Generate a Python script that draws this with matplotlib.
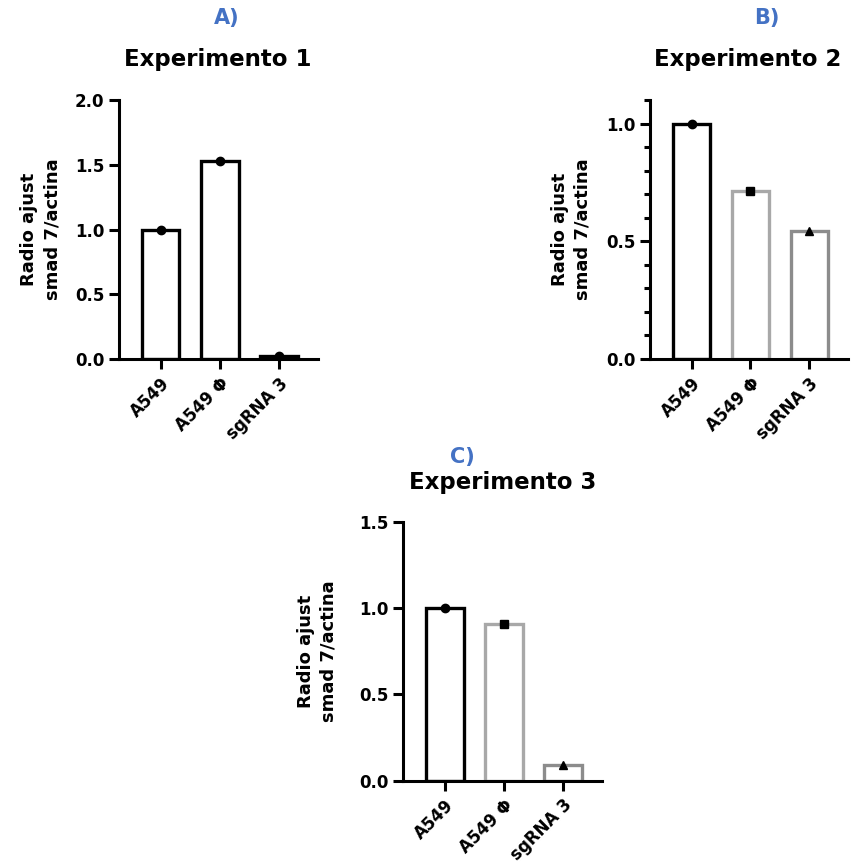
import matplotlib
matplotlib.use("Agg")
import matplotlib.pyplot as plt
from matplotlib.ticker import MultipleLocator

categories = ["A549", "A549 Φ", "sgRNA 3"]

exp1_values = [1.0, 1.53, 0.025]
exp2_values = [1.0, 0.715, 0.545]
exp3_values = [1.0, 0.91, 0.09]

panel_letters = ["A)", "B)", "C)"]
panel_titles = ["Experimento 1", "Experimento 2", "Experimento 3"]
ylabel_text = "Radio ajust\nsmad 7/actina"

plt.rcParams['font.family'] = ['DejaVu Sans']
plt.rcParams['font.weight'] = 'bold'

blue = '#4472C4'
lw = 2.2

fig = plt.figure(figsize=(8.54, 8.67), dpi=100)


def draw_panel(rect, values, edgecolors, markers, ylim, major, minor, ylabel_x):
    ax = fig.add_axes(rect)
    x = list(range(len(values)))
    ax.bar(x, values, width=0.63, color='white', edgecolor=edgecolors,
           linewidth=2.4, zorder=2)
    for xi, v, m in zip(x, values, markers):
        ax.plot(xi, v, marker=m, color='black', markersize=6,
                linestyle='none', zorder=3, clip_on=False)
    ax.set_xlim(-0.71, 2.66)
    ax.set_ylim(*ylim)
    ax.yaxis.set_major_locator(MultipleLocator(major))
    if minor:
        ax.yaxis.set_minor_locator(MultipleLocator(minor))
    ax.yaxis.set_major_formatter(matplotlib.ticker.FormatStrFormatter('%.1f'))
    ax.set_xticks(x)
    ax.set_xticklabels(categories, rotation=45, ha='right',
                       rotation_mode='anchor', fontsize=12, fontweight='bold')
    for s in ['top', 'right']:
        ax.spines[s].set_visible(False)
    for s in ['left', 'bottom']:
        ax.spines[s].set_linewidth(lw)
    ax.tick_params(axis='both', which='major', width=lw, length=7)
    ax.tick_params(axis='y', which='major', labelsize=12)
    ax.tick_params(axis='y', which='minor', width=lw, length=4)
    ax.tick_params(axis='x', which='major', pad=4)
    for t in ax.get_yticklabels():
        t.set_fontweight('bold')
    ax.set_ylabel(ylabel_text, fontsize=13, fontweight='bold',
                  linespacing=1.35)
    ax.yaxis.set_label_coords(ylabel_x, 0.5)
    return ax


draw_panel([0.1393, 0.5859, 0.2330, 0.2987], exp1_values,
           ['black', 'black', 'black'], ['o', 'o', 'o'],
           (0, 2.0), 0.5, None, -0.29)
draw_panel([0.7611, 0.5859, 0.2319, 0.2987], exp2_values,
           ['black', '#A8A8A8', '#8C8C8C'], ['o', 's', '^'],
           (0, 1.1), 0.5, 0.1, -0.293)
draw_panel([0.4719, 0.0995, 0.2330, 0.2988], exp3_values,
           ['black', '#A8A8A8', '#8C8C8C'], ['o', 's', '^'],
           (0, 1.5), 0.5, None, -0.327)

# panel titles and letters
fig.text(0.266, 0.979, panel_letters[0], color=blue, fontsize=15,
         fontweight='bold', ha='center', va='center')
fig.text(0.255, 0.931, panel_titles[0], fontsize=16.5, fontweight='bold',
         ha='center', va='center')
fig.text(0.898, 0.979, panel_letters[1], color=blue, fontsize=15,
         fontweight='bold', ha='center', va='center')
fig.text(0.876, 0.931, panel_titles[1], fontsize=16.5, fontweight='bold',
         ha='center', va='center')
fig.text(0.541, 0.473, panel_letters[2], color=blue, fontsize=15,
         fontweight='bold', ha='center', va='center')
fig.text(0.589, 0.443, panel_titles[2], fontsize=16.5, fontweight='bold',
         ha='center', va='center')

fig.savefig('out.png', dpi=100)
